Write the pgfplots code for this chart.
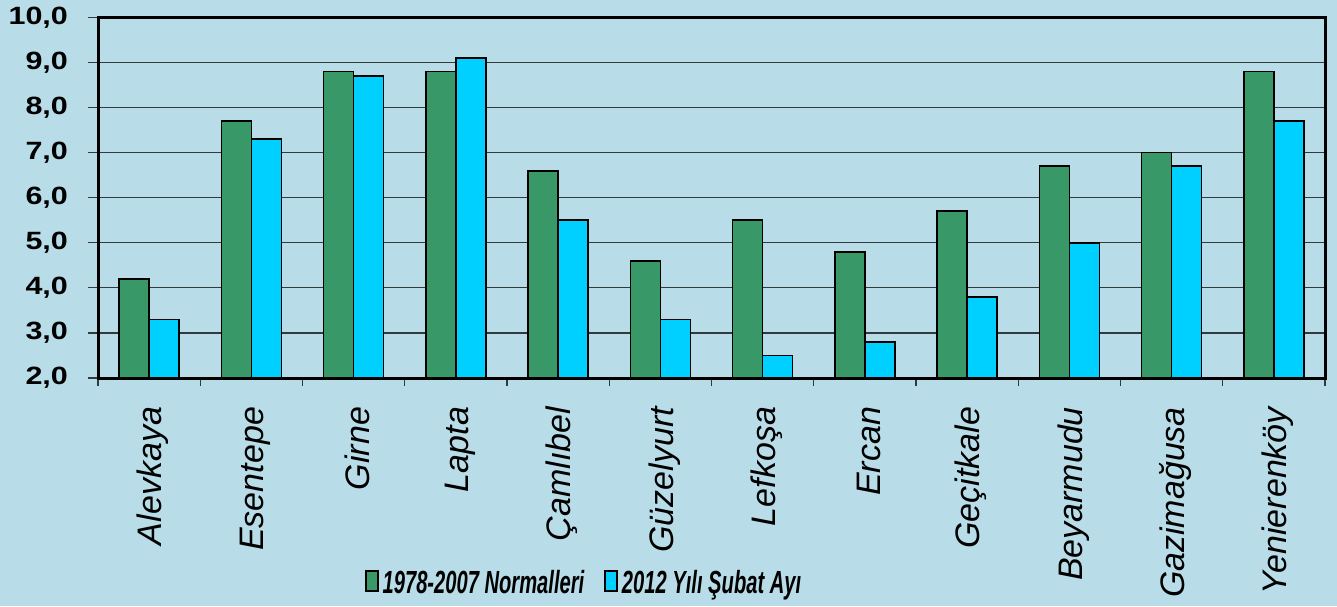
\documentclass[border=0pt]{standalone}
\usepackage{fontspec}
\setmainfont{Liberation Sans}
\newfontfamily\legfont[FakeStretch=0.63]{Liberation Sans}
\newfontfamily\yfont[FakeStretch=1.22]{Liberation Sans}
\usepackage{pgfplots}
\pgfplotsset{compat=1.18}
\definecolor{bg}{RGB}{184,221,232}
\definecolor{gmain}{RGB}{56,152,104}
\definecolor{cmain}{RGB}{0,208,255}
\definecolor{gridc}{RGB}{50,58,60}
\begin{document}
\begin{tikzpicture}
\path[use as bounding box, fill=bg] (0,0) rectangle (668.5pt,303pt);
\begin{axis}[
  at={(49pt,114pt)}, anchor=south west, scale only axis,
  width=613.5pt, height=180.25pt,
  ymin=2, ymax=10, ytick={2,3,...,10},
  xmin=-0.5, xmax=11.5,
  xtick={0,...,11},
  xticklabels={Alevkaya,Esentepe,Girne,Lapta,Çamlıbel,Güzelyurt,Lefkoşa,Ercan,Geçitkale,Beyarmudu,Gazimağusa,Yenierenköy},
  minor xtick={-0.5,0.5,...,11.5},
  ybar=0pt, bar width=15pt,
  axis line style={line width=1.5pt},
  ymajorgrids, grid style={line width=0.6pt, color=gridc},
  tick align=outside, tick pos=left,
  major tick length=5pt, minor tick length=4pt,
  major x tick style={draw=none},
  minor x tick style={line width=0.6pt, color=gridc},
  major y tick style={line width=0.6pt, color=gridc},
  /pgf/number format/.cd, fixed, fixed zerofill, precision=1, use comma, assume math mode=true,
  /pgfplots/.cd,
  yticklabel style={font=\yfont\bfseries\fontsize{12.5}{14}\selectfont, xshift=-6.5pt},
  xticklabel style={font=\fontsize{17}{20}\selectfont\itshape, rotate=90, anchor=east, xshift=-6pt, yshift=-2pt},
  legend style={at={(0.397,-0.569)}, anchor=center, draw=none, fill=none,
    legend columns=2, font=\legfont\bfseries\itshape\fontsize{16}{18}\selectfont,
    /tikz/every even column/.append style={column sep=8pt}},
  legend image code/.code={\draw[#1] (0pt,-4pt) rectangle (6pt,6pt);},
]
\addplot[draw=black, line width=0.8pt, fill=gmain]
  coordinates {(0,4.2) (1,7.7) (2,8.8) (3,8.8) (4,6.6) (5,4.6) (6,5.5) (7,4.8) (8,5.7) (9,6.7) (10,7.0) (11,8.8)};
\addplot[draw=black, line width=0.8pt, fill=cmain]
  coordinates {(0,3.3) (1,7.3) (2,8.7) (3,9.1) (4,5.5) (5,3.3) (6,2.5) (7,2.8) (8,3.8) (9,5.0) (10,6.7) (11,7.7)};
\legend{1978-2007 Normalleri, 2012 Yılı Şubat Ayı}
\end{axis}
\end{tikzpicture}
\end{document}
